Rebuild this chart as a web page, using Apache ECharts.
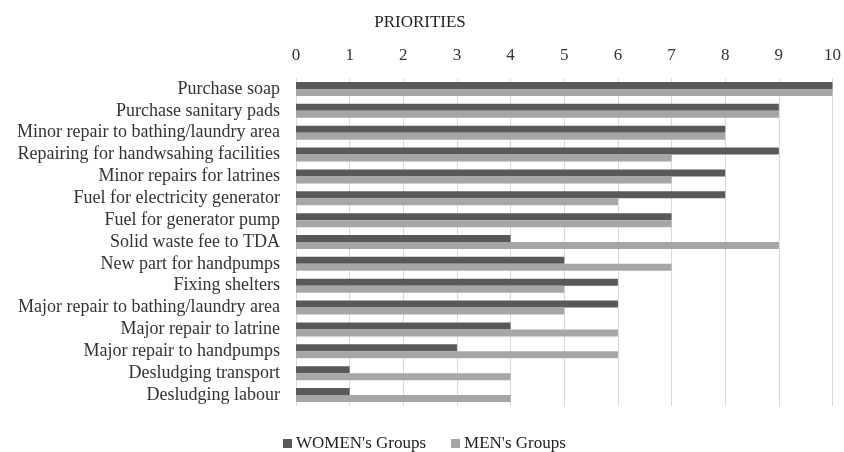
<!DOCTYPE html>
<html>
<head>
<meta charset="utf-8">
<script src="https://cdn.jsdelivr.net/npm/echarts@6/dist/echarts.min.js"></script>
<style>
  html, body { margin: 0; padding: 0; background: #fff; }
  #chart { width: 844px; height: 452px; }
</style>
</head>
<body>
<div id="chart"></div>
<script>
// categories, top to bottom
var categories = [
  'Purchase soap',
  'Purchase sanitary pads',
  'Minor repair to bathing/laundry area',
  'Repairing for handwsahing facilities',
  'Minor repairs for latrines',
  'Fuel for electricity generator',
  'Fuel for generator pump',
  'Solid waste fee to TDA',
  'New part for handpumps',
  'Fixing shelters',
  'Major repair to bathing/laundry area',
  'Major repair to latrine',
  'Major repair to handpumps',
  'Desludging transport',
  'Desludging labour'
];
var womenValues = [10, 9, 8, 9, 8, 8, 7, 4, 5, 6, 6, 4, 3, 1, 1];
var menValues   = [10, 9, 8, 7, 7, 6, 7, 9, 7, 5, 5, 6, 6, 4, 4];

var font = 'Liberation Serif';

var chart = echarts.init(document.getElementById('chart'));
chart.setOption({
  animation: false,
  title: {
    text: 'PRIORITIES',
    left: 415, top: 9,
    textAlign: 'center',
    textStyle: { fontFamily: font, fontSize: 17, fontWeight: 'normal', color: '#222' }
  },
  legend: {
    top: 430,
    left: 278,
    itemWidth: 9, itemHeight: 9,
    itemGap: 25,
    icon: 'rect',
    textStyle: { fontFamily: font, fontSize: 17, color: '#222', padding: [0, 0, 0, -1] },
    data: ["WOMEN's Groups", "MEN's Groups"]
  },
  grid: { left: 296, right: 11, top: 78, bottom: 46 },
  xAxis: {
    type: 'value',
    position: 'top',
    min: 0, max: 10, interval: 1,
    axisLine: { show: false },
    axisTick: { show: false },
    axisLabel: { fontFamily: font, fontSize: 17, color: '#333', margin: 14 },
    splitLine: { lineStyle: { color: '#d9d9d9', width: 1 } }
  },
  yAxis: {
    type: 'category',
    inverse: true,
    data: categories,
    axisLine: { show: false },
    axisTick: { show: false },
    axisLabel: { fontFamily: font, fontSize: 18, color: '#333', margin: 16, interval: 0 }
  },
  series: [
    {
      name: "WOMEN's Groups",
      type: 'bar',
      data: womenValues,
      itemStyle: { color: '#595959' },
      barGap: '0%',
      barCategoryGap: '36%'
    },
    {
      name: "MEN's Groups",
      type: 'bar',
      data: menValues,
      itemStyle: { color: '#a6a6a6' },
      barGap: '0%',
      barCategoryGap: '36%'
    }
  ]
});
</script>
</body>
</html>
